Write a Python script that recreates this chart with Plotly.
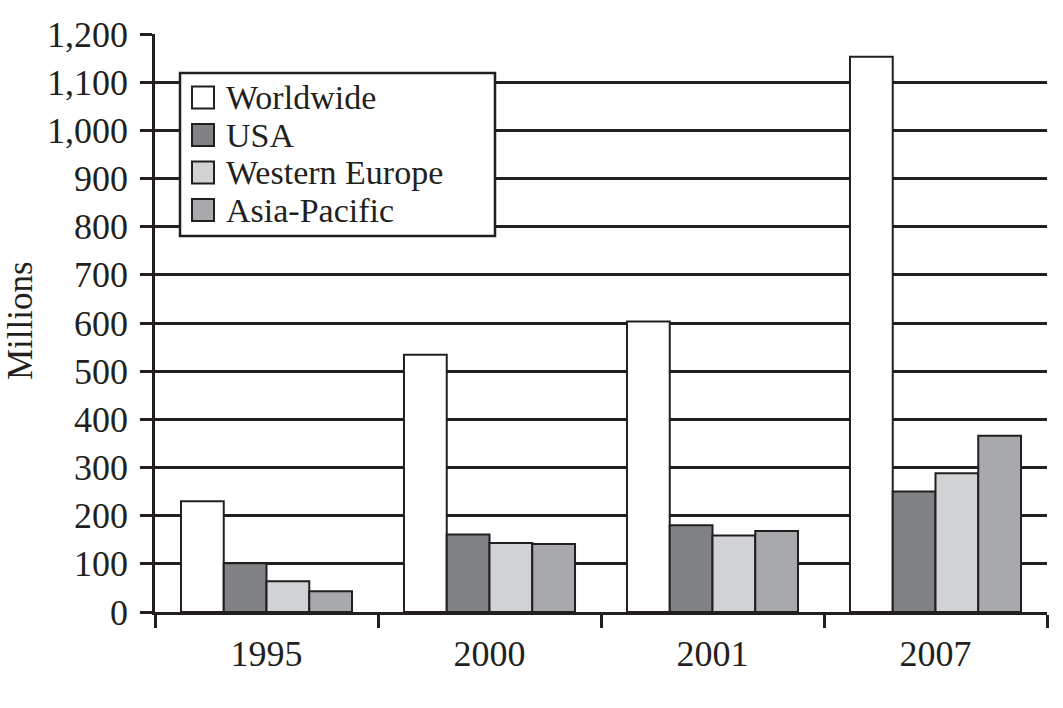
import plotly.graph_objects as go

years = ["1995", "2000", "2001", "2007"]
worldwide = [230, 534, 603, 1153]
usa = [101, 161, 180, 250]
western_europe = [64, 143, 159, 288]
asia_pacific = [43, 141, 168, 366]

series = [
    ("Worldwide", worldwide, "#ffffff"),
    ("USA", usa, "#808285"),
    ("Western Europe", western_europe, "#d1d2d4"),
    ("Asia-Pacific", asia_pacific, "#a7a9ac"),
]

FONT = "Liberation Serif"
INK = "#231f20"

W, H = 1063, 708
ML, MR, MT, MB = 155, 16, 34, 96
PW, PH = W - ML - MR, H - MT - MB


def px_x(p):
    return (p - ML) / PW


def px_y(p):
    return (H - MB - p) / PH


fig = go.Figure()
for name, vals, col in series:
    fig.add_trace(go.Bar(
        x=years, y=vals, name=name,
        marker=dict(color=col, line=dict(color=INK, width=2)),
    ))

# legend box drawn in paper coordinates
shapes = [dict(type="rect", xref="paper", yref="paper",
               x0=px_x(180), x1=px_x(495), y0=px_y(236), y1=px_y(73),
               line=dict(color=INK, width=2.5), fillcolor="white", layer="above")]
annotations = []
for i, (name, vals, col) in enumerate(series):
    cy = 97.5 + i * 37.5
    shapes.append(dict(type="rect", xref="paper", yref="paper",
                       x0=px_x(192), x1=px_x(214), y0=px_y(cy + 11), y1=px_y(cy - 11),
                       line=dict(color=INK, width=2), fillcolor=col, layer="above"))
    annotations.append(dict(xref="paper", yref="paper", x=px_x(224), y=px_y(cy),
                            xanchor="left", yanchor="middle", showarrow=False,
                            text=name, font=dict(family=FONT, size=34, color=INK)))

# y-axis title
annotations.append(dict(xref="paper", yref="paper", x=px_x(21), y=px_y(321),
                        xanchor="center", yanchor="middle", showarrow=False,
                        textangle=-90, text="Millions",
                        font=dict(family=FONT, size=35, color=INK)))

fig.update_layout(
    width=W, height=H,
    margin=dict(l=ML, r=MR, t=MT, b=MB),
    paper_bgcolor="white", plot_bgcolor="white",
    barmode="group", bargap=0.233, bargroupgap=0,
    font=dict(family=FONT, size=36, color=INK),
    showlegend=False,
    shapes=shapes,
    annotations=annotations,
    xaxis=dict(
        showline=True, linecolor=INK, linewidth=2.5,
        ticks="outside", tickson="boundaries", ticklen=13, tickwidth=2.5,
        tickcolor=INK, showgrid=False,
        tickfont=dict(family=FONT, size=36),
        ticklabelstandoff=8,
    ),
    yaxis=dict(
        range=[0, 1200], dtick=100, tickformat=",",
        showline=True, linecolor=INK, linewidth=2.5,
        ticks="outside", ticklen=12, tickwidth=2.5, tickcolor=INK,
        showgrid=True, gridcolor=INK, gridwidth=2.5,
        zeroline=False,
        tickfont=dict(family=FONT, size=36),
        ticklabelstandoff=5,
    ),
)

fig.write_html("out.html")
